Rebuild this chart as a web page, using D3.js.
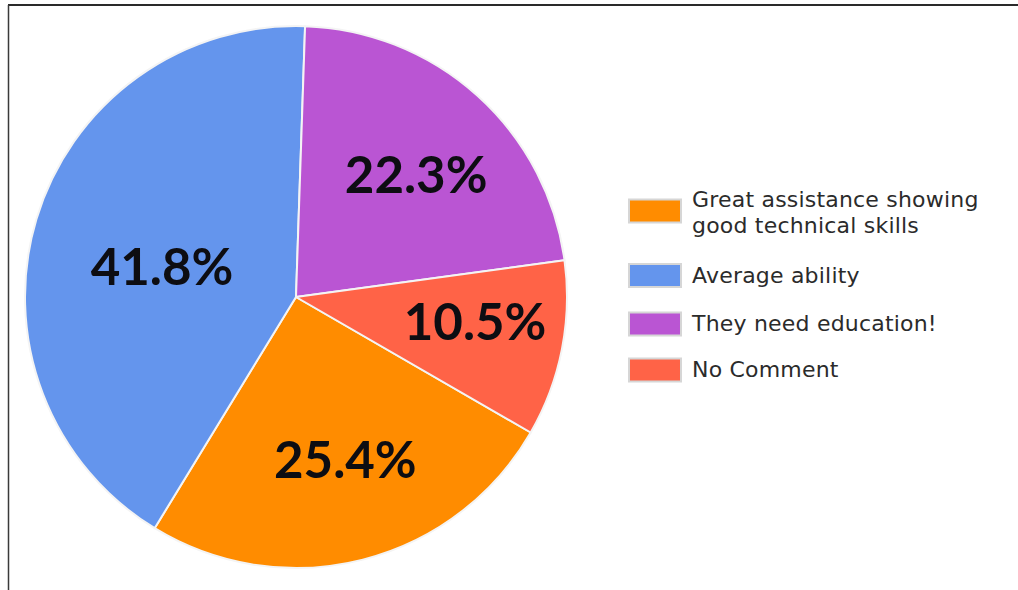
<!DOCTYPE html>
<html>
<head>
<meta charset="utf-8">
<script src="https://cdn.jsdelivr.net/npm/d3@7"></script>
<style>
  html, body { margin: 0; padding: 0; background: #fff; }
  svg { display: block; }
</style>
</head>
<body>
<svg id="chart" width="1018" height="590"></svg>
<script>
// Survey responses (share of answers, %)
const categories = [
  "Great assistance showing good technical skills",
  "Average ability",
  "They need education!",
  "No Comment"
];
const legendLines = [
  ["Great assistance showing", "good technical skills"],
  ["Average ability"],
  ["They need education!"],
  ["No Comment"]
];
const values = [25.4, 41.8, 22.3, 10.5];
const colors = ["#FF8C00", "#6495ED", "#BA55D3", "#FF6347"];

const svg = d3.select("#chart");
const W = 1018, H = 590;

// frame lines (top and left)
svg.append("line").attr("x1", 8).attr("y1", 5).attr("x2", W).attr("y2", 5)
  .attr("stroke", "#2a2a2a").attr("stroke-width", 2);
svg.append("line").attr("x1", 8.5).attr("y1", 5).attr("x2", 8.5).attr("y2", H)
  .attr("stroke", "#3a3a3a").attr("stroke-width", 1.5);

const cx = 296, cy = 297, R = 271;
const startA = 120 * Math.PI / 180;

const pie = d3.pie().sort(null).value(d => d)
  .startAngle(startA).endAngle(startA + 2 * Math.PI);
const arcs = pie(values);
const arc = d3.arc().innerRadius(0).outerRadius(R);

const g = svg.append("g").attr("transform", `translate(${cx},${cy})`);

g.selectAll("path.slice").data(arcs).enter().append("path")
  .attr("class", "slice")
  .attr("d", arc)
  .attr("fill", (d, i) => colors[i])
  .attr("stroke", "#f4f4f4")
  .attr("stroke-width", 2)
  .attr("stroke-linejoin", "round");

// percentage labels inside the slices
const labelRadius = [0.63, 0.507, 0.633, 0.667];
const labelTurn = [-2.5, -4, 2.4, -3.3]; // degrees
const fmt = d3.format(".1f");
g.selectAll("text.pct").data(arcs).enter().append("text")
  .attr("class", "pct")
  .each(function (d, i) {
    const a = (d.startAngle + d.endAngle) / 2 + labelTurn[i] * Math.PI / 180;
    const r = R * labelRadius[i];
    d3.select(this)
      .attr("x", r * Math.sin(a))
      .attr("y", -r * Math.cos(a) + 18);
  })
  .attr("text-anchor", "middle")
  .attr("font-family", "Lato, 'Open Sans', sans-serif")
  .attr("font-weight", 700)
  .attr("font-size", 51)
  .attr("fill", "#0d0d12")
  .text(d => fmt(d.value) + "%");

// legend
const itemCenters = [211, 275.5, 324, 370];
const legend = svg.append("g");
const items = legend.selectAll("g.item").data(categories).enter().append("g")
  .attr("class", "item")
  .attr("transform", (d, i) => `translate(0,${itemCenters[i]})`);

items.append("rect")
  .attr("x", 629).attr("y", -11.5).attr("width", 52).attr("height", 23)
  .attr("fill", (d, i) => colors[i])
  .attr("stroke", "#d6d6d6").attr("stroke-width", 2);

items.append("text")
  .attr("x", 692)
  .attr("font-family", "'DejaVu Sans', sans-serif")
  .attr("font-size", 22)
  .attr("letter-spacing", 0.2)
  .attr("fill", "#2b2b2b")
  .each(function (d, i) {
    const lines = legendLines[i];
    const t = d3.select(this);
    const first = lines.length > 1 ? -4 : 7;
    lines.forEach((ln, j) => {
      t.append("tspan").attr("x", 692).attr("y", first + j * 26).text(ln);
    });
  });
</script>
</body>
</html>
